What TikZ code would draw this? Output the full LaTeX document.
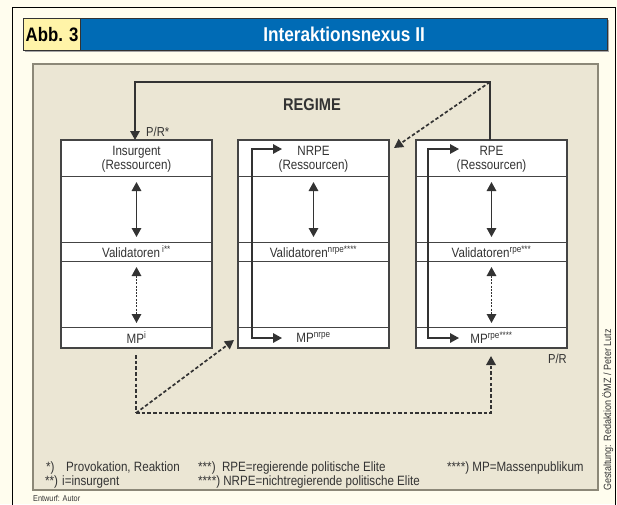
\documentclass[tikz,border=0pt]{standalone}
\usepackage{fontspec}
\setmainfont{Liberation Sans}[FakeStretch=0.86]
\usetikzlibrary{arrows.meta,calc}
\definecolor{cream}{HTML}{FFFDEE}
\definecolor{beige}{HTML}{EBE6D4}
\definecolor{beigeline}{HTML}{8C8878}
\definecolor{titleblue}{HTML}{006BB5}
\definecolor{abbyellow}{HTML}{FFF4A8}
\definecolor{ink}{HTML}{333333}
\definecolor{boxline}{HTML}{444444}
\tikzset{
  tip/.style={-{Triangle[length=9pt,width=9.5pt]}},
  dtip/.style={{Triangle[length=9pt,width=9.5pt]}-{Triangle[length=9pt,width=9.5pt]}},
  boxstyle/.style={draw=boxline, line width=1.6pt, fill=white, minimum width=151pt, minimum height=208pt, anchor=north west, inner sep=0pt, outer sep=0pt},
  rowline/.style={draw=boxline, line width=1pt},
  conn/.style={draw=ink, line width=1.5pt},
  dconn/.style={draw=ink, line width=1.7pt, dash pattern=on 3.5pt off 2.2pt},
  idash/.style={draw=ink, line width=1.4pt, dash pattern=on 2pt off 1.3pt},
  boxtext/.style={font=\fontsize{13.5}{14}\selectfont, text=ink, align=center, inner sep=0pt},
  foot/.style={font=\fontsize{13.5}{14}\selectfont, text=ink, anchor=base west, inner sep=0pt},
}
\begin{document}
\begin{tikzpicture}[x=1pt,y=-1pt]
\useasboundingbox (0,0) rectangle (617,504);
% outer frame
\fill[cream] (0,0) rectangle (617,504);
\draw[black, line width=1pt] (12,510) -- (12,7) -- (615,7) -- (615,510);
% title bar
\fill[gray!70] (25,20) rectangle (609,52);
\node[draw=ink, line width=1.2pt, fill=abbyellow, anchor=north west, minimum width=57pt, minimum height=32pt, inner sep=0pt, font=\fontsize{19.5}{20}\selectfont\bfseries, text=black] (abb) at (23,18) {Abb. 3};
\node[draw=ink, line width=1.2pt, fill=titleblue, anchor=north west, minimum width=527pt, minimum height=32pt, inner sep=0pt, font=\fontsize{20}{20}\selectfont\bfseries, text=white] (title) at (80,18) {Interaktionsnexus II};
% inner area
\node[draw=beigeline, line width=1.5pt, fill=beige, anchor=north west, minimum width=565pt, minimum height=426pt, inner sep=0pt] (area) at (32,63) {};
\node[font=\fontsize{17}{18}\selectfont\bfseries, text=ink] (regime) at (312,105) {REGIME};
% boxes
\node[boxstyle] (b1) at (61,140) {};
\node[boxstyle] (b2) at (238,140) {};
\node[boxstyle] (b3) at (416,140) {};
\foreach \b in {b1,b2,b3}{
  \draw[rowline] ($(\b.north west)+(0,36)$) -- ($(\b.north east)+(0,36)$);
  \draw[rowline] ($(\b.north west)+(0,102)$) -- ($(\b.north east)+(0,102)$);
  \draw[rowline] ($(\b.north west)+(0,121)$) -- ($(\b.north east)+(0,121)$);
  \draw[rowline] ($(\b.north west)+(0,187)$) -- ($(\b.north east)+(0,187)$);
  \coordinate (\b-a1) at ($(\b.north)+(0,42)$);
  \coordinate (\b-a2) at ($(\b.north)+(0,97)$);
  \coordinate (\b-d1) at ($(\b.north)+(0,127)$);
  \coordinate (\b-d2) at ($(\b.north)+(0,183)$);
  \draw[conn, dtip] (\b-a1) -- (\b-a2);
}
\draw[idash, dtip] (b1-d1) -- (b1-d2);
\draw[idash, dtip] (b3-d1) -- (b3-d2);
% box texts
\node[boxtext] (h1) at ($(b1.north)+(0,19)$) {Insurgent\\(Ressourcen)};
\node[boxtext] (h2) at ($(b2.north)+(0,19)$) {NRPE\\(Ressourcen)};
\node[boxtext] (h3) at ($(b3.north)+(0,19)$) {RPE\\(Ressourcen)};
\node[boxtext] (v1) at ($(b1.north)+(0,112)$) {Validatoren\,\textsuperscript{i**}};
\node[boxtext] (v2) at ($(b2.north)+(0,112)$) {Validatoren\textsuperscript{nrpe****}};
\node[boxtext] (v3) at ($(b3.north)+(0,112)$) {Validatoren\textsuperscript{rpe***}};
\node[boxtext] (m1) at ($(b1.north)+(0,197.5)$) {MP\textsuperscript{i}};
\node[boxtext] (m2) at ($(b2.north)+(0,197.5)$) {MP\textsuperscript{nrpe}};
\node[boxtext] (m3) at ($(b3.north)+(0,197.5)$) {MP\textsuperscript{rpe****}};
% bracket arrows inside NRPE and RPE
\coordinate (n-top) at (282,149);
\coordinate (n-bot) at (282,338);
\draw[conn, dtip] (n-top) -- (252,149) -- (252,338) -- (n-bot);
\coordinate (r-top) at (459,149);
\coordinate (r-bot) at (459,338);
\draw[conn, dtip] (r-top) -- (428,149) -- (428,338) -- (r-bot);
% top connector P/R*
\coordinate (corner) at (490,82);
\draw[conn, tip] (b3.north -| corner) -- (corner) -- (135,82) -- (135,140);
\node[font=\fontsize{13}{14}\selectfont, text=ink, anchor=base west, inner sep=0pt] (pr1) at (146,136) {P/R*};
\draw[dconn, tip] (corner) -- (394,148);
% bottom connectors
\coordinate (junc) at (136,413);
\draw[dconn] (136,355) -- (junc);
\draw[dconn, tip] (junc) -- (234,340);
\draw[dconn, tip] (junc) -- (491,413) -- (491,356);
\node[font=\fontsize{13}{14}\selectfont, text=ink, anchor=base east, inner sep=0pt] (pr2) at (567,363) {P/R};
% footnotes
\node[foot] (f1) at (46,471) {\makebox[20pt][l]{*)}Provokation, Reaktion};
\node[foot] (f2) at (45,485) {\makebox[17pt][l]{**)}i=insurgent};
\node[foot] (f3) at (198,471) {***)\ \ RPE=regierende politische Elite};
\node[foot] (f4) at (198,485) {****) NRPE=nichtregierende politische Elite};
\node[foot] (f5) at (447,471) {****) MP=Massenpublikum};
% credits
\node[font=\fontsize{8.5}{9}\selectfont, text=ink, anchor=base west, inner sep=0pt] (entw) at (33,501) {Entwurf: Autor};
\node[font=\fontsize{10.5}{11}\selectfont, text=ink, rotate=90, anchor=base west, inner sep=0pt] (gest) at (611,491) {Gestaltung: Redaktion ÖMZ / Peter Lutz};
\end{tikzpicture}
\end{document}
